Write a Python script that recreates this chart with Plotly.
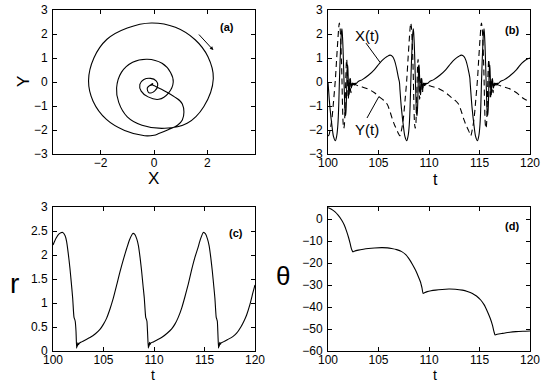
import plotly.graph_objects as go

# ---------------- data ----------------
# X(t), Y(t): three cycles
t_cycle1 = [100.00, 100.06, 100.20, 100.38, 100.55, 100.72, 100.86, 100.98, 101.06, 101.12,
            101.19, 101.26, 101.32, 101.38, 101.44, 101.50, 101.56, 101.62, 101.66, 101.70,
            101.74, 101.78, 101.82, 101.85, 101.88, 101.91, 101.94, 101.97, 102.00, 102.03,
            102.06, 102.09, 102.12, 102.15, 102.18, 102.21, 102.24, 102.28, 102.32, 102.36,
            102.40, 102.44, 102.48, 102.53, 102.58, 102.64, 102.70, 102.78, 103.00, 103.40,
            104.00, 104.60, 105.10, 105.50, 105.85, 106.15, 106.40, 106.60, 106.80, 106.97]
x_cycle1 = [0.00, -0.35, -1.10, -1.78, -2.28, -2.45, -2.25, -1.76, -1.00, -0.10,
            0.80, 1.54, 2.02, 2.22, 1.86, 1.24, 0.40, -0.45, -1.00, -1.32,
            -1.40, -1.22, -0.80, -0.25, 0.30, 0.62, 0.72, 0.55, 0.18, -0.22,
            -0.48, -0.53, -0.38, -0.13, 0.08, 0.14, 0.02, -0.19, -0.25, -0.10,
            -0.04, -0.12, -0.05, -0.11, -0.05, -0.09, -0.05, -0.06, 0.02, 0.10,
            0.28, 0.52, 0.78, 0.95, 1.06, 1.12, 1.06, 0.88, 0.55, 0.18]
y_cycle1 = [-2.22, -2.24, -2.02, -1.56, -0.80, 0.05, 1.00, 1.78, 2.25, 2.46,
            2.28, 1.76, 1.05, 0.15, -1.03, -1.72, -1.93, -1.80, -1.45, -0.85,
            -0.25, 0.40, 0.82, 0.95, 0.78, 0.40, 0.00, -0.45, -0.72, -0.62,
            -0.38, -0.10, 0.10, 0.15, 0.05, -0.13, -0.38, -0.45, -0.25, -0.10,
            -0.06, -0.15, -0.08, -0.14, -0.09, -0.13, -0.10, -0.12, -0.16, -0.21,
            -0.30, -0.45, -0.63, -0.76, -0.92, -1.25, -1.58, -1.80, -1.98, -2.15]

t_cycle2 = [107.07, 107.13, 107.27, 107.45, 107.62, 107.79, 107.93, 108.05, 108.13, 108.19,
            108.26, 108.33, 108.39, 108.45, 108.51, 108.57, 108.63, 108.69, 108.73, 108.77,
            108.81, 108.85, 108.89, 108.92, 108.95, 108.98, 109.01, 109.04, 109.07, 109.10,
            109.13, 109.16, 109.19, 109.22, 109.25, 109.28, 109.31, 109.35, 109.39, 109.43,
            109.47, 109.51, 109.55, 109.60, 109.65, 109.71, 109.77, 109.85, 110.07, 110.47,
            111.07, 111.67, 112.17, 112.57, 112.92, 113.22, 113.47, 113.67, 113.87, 114.04]
x_cycle2 = [0.00, -0.35, -1.10, -1.78, -2.28, -2.45, -2.25, -1.76, -1.00, -0.10,
            0.80, 1.54, 2.02, 2.22, 1.86, 1.24, 0.40, -0.45, -1.00, -1.32,
            -1.40, -1.22, -0.80, -0.25, 0.30, 0.62, 0.72, 0.55, 0.18, -0.22,
            -0.48, -0.53, -0.38, -0.13, 0.08, 0.14, 0.02, -0.19, -0.25, -0.10,
            -0.04, -0.12, -0.05, -0.11, -0.05, -0.09, -0.05, -0.06, 0.02, 0.10,
            0.28, 0.52, 0.78, 0.95, 1.06, 1.12, 1.06, 0.88, 0.55, 0.18]
y_cycle2 = [-2.22, -2.24, -2.02, -1.56, -0.80, 0.05, 1.00, 1.78, 2.25, 2.46,
            2.28, 1.76, 1.05, 0.15, -1.03, -1.72, -1.93, -1.80, -1.45, -0.85,
            -0.25, 0.40, 0.82, 0.95, 0.78, 0.40, 0.00, -0.45, -0.72, -0.62,
            -0.38, -0.10, 0.10, 0.15, 0.05, -0.13, -0.38, -0.45, -0.25, -0.10,
            -0.06, -0.15, -0.08, -0.14, -0.09, -0.13, -0.10, -0.12, -0.16, -0.21,
            -0.30, -0.45, -0.63, -0.76, -0.92, -1.25, -1.58, -1.80, -1.98, -2.15]

t_cycle3 = [114.07, 114.13, 114.27, 114.45, 114.62, 114.79, 114.93, 115.05, 115.13, 115.19,
            115.26, 115.33, 115.39, 115.45, 115.51, 115.57, 115.63, 115.69, 115.73, 115.77,
            115.81, 115.85, 115.89, 115.92, 115.95, 115.98, 116.01, 116.04, 116.07, 116.10,
            116.13, 116.16, 116.19, 116.22, 116.25, 116.28, 116.31, 116.35, 116.39, 116.43,
            116.47, 116.51, 116.55, 116.60, 116.65, 116.71, 116.77, 116.85, 117.07, 117.47,
            118.07, 118.67, 119.17, 119.57, 120.00]
x_cycle3 = [0.00, -0.35, -1.10, -1.78, -2.28, -2.45, -2.25, -1.76, -1.00, -0.10,
            0.80, 1.54, 2.02, 2.22, 1.86, 1.24, 0.40, -0.45, -1.00, -1.32,
            -1.40, -1.22, -0.80, -0.25, 0.30, 0.62, 0.72, 0.55, 0.18, -0.22,
            -0.48, -0.53, -0.38, -0.13, 0.08, 0.14, 0.02, -0.19, -0.25, -0.10,
            -0.04, -0.12, -0.05, -0.11, -0.05, -0.09, -0.05, -0.06, 0.02, 0.10,
            0.28, 0.52, 0.78, 0.92, 1.00]
y_cycle3 = [-2.22, -2.24, -2.02, -1.56, -0.80, 0.05, 1.00, 1.78, 2.25, 2.46,
            2.28, 1.76, 1.05, 0.15, -1.03, -1.72, -1.93, -1.80, -1.45, -0.85,
            -0.25, 0.40, 0.82, 0.95, 0.78, 0.40, 0.00, -0.45, -0.72, -0.62,
            -0.38, -0.10, 0.10, 0.15, 0.05, -0.13, -0.38, -0.45, -0.25, -0.10,
            -0.06, -0.15, -0.08, -0.14, -0.09, -0.13, -0.10, -0.12, -0.16, -0.21,
            -0.30, -0.45, -0.63, -0.74, -0.82]

# r(t)
t_r = [100.0, 100.3, 100.6, 100.96, 101.2, 101.35, 101.5, 101.68, 101.8, 101.95,
       102.08, 102.15, 102.2, 102.28, 102.34, 102.38, 102.42, 102.46, 102.52, 102.6,
       102.84, 103.2, 103.66, 104.2, 104.65, 105.0, 105.3, 105.65, 105.97, 106.3,
       106.63, 107.0, 107.3, 107.6, 107.9, 108.1, 108.3, 108.45, 108.62, 108.78,
       108.92, 109.04, 109.18, 109.25, 109.3, 109.37, 109.44, 109.48, 109.52, 109.56,
       109.62, 109.7, 109.93, 110.3, 110.75, 111.3, 111.75, 112.1, 112.4, 112.75,
       113.05, 113.4, 113.7, 114.05, 114.35, 114.6, 114.88, 115.1, 115.3, 115.45,
       115.62, 115.78, 115.92, 116.03, 116.16, 116.22, 116.27, 116.33, 116.39, 116.43,
       116.47, 116.51, 116.57, 116.65, 116.86, 117.3, 117.8, 118.18, 118.6, 118.9,
       119.17, 119.5, 119.8, 120.0]
r_vals = [2.21, 2.35, 2.44, 2.47, 2.40, 2.28, 2.05, 1.72, 1.45, 1.10,
          0.70, 0.66, 0.62, 0.40, 0.06, 0.14, 0.10, 0.17, 0.13, 0.16,
          0.19, 0.23, 0.28, 0.36, 0.45, 0.56, 0.68, 0.88, 1.10, 1.37,
          1.65, 1.93, 2.14, 2.33, 2.45, 2.43, 2.33, 2.20, 1.95, 1.65,
          1.35, 1.10, 0.70, 0.66, 0.62, 0.35, 0.06, 0.15, 0.10, 0.18,
          0.14, 0.17, 0.19, 0.23, 0.28, 0.37, 0.46, 0.57, 0.70, 0.90,
          1.12, 1.40, 1.67, 1.95, 2.15, 2.33, 2.47, 2.44, 2.33, 2.20,
          1.95, 1.65, 1.35, 1.10, 0.70, 0.66, 0.62, 0.35, 0.06, 0.15,
          0.10, 0.18, 0.14, 0.17, 0.19, 0.24, 0.30, 0.37, 0.50, 0.62,
          0.75, 0.97, 1.22, 1.375]

# theta(t)
t_theta = [100.0, 100.3, 100.7, 101.0, 101.36, 101.6, 101.86, 102.05, 102.19, 102.3,
           102.38, 102.46, 102.6, 103.0, 103.5, 104.0, 104.6, 105.3, 105.9, 106.3,
           106.8, 107.3, 107.7, 107.99, 108.35, 108.66, 108.95, 109.15, 109.3, 109.42,
           109.55, 109.82, 110.2, 110.65, 111.3, 111.97, 112.6, 113.3, 113.8, 114.3,
           114.7, 115.12, 115.45, 115.79, 116.05, 116.28, 116.42, 116.55, 116.75, 117.3,
           118.0, 118.6, 119.3, 120.0]
theta_vals = [5.2, 4.6, 3.3, 1.8, -0.5, -2.6, -5.8, -8.6, -11.1, -13.2,
              -14.2, -14.9, -14.6, -14.1, -13.7, -13.4, -13.15, -13.0, -13.1, -13.4,
              -13.9, -14.8, -16.2, -17.9, -20.5, -23.2, -26.2, -28.5, -31.2, -33.8,
              -33.5, -33.0, -32.6, -32.3, -32.0, -31.8, -31.9, -32.3, -32.9, -33.8,
              -35.0, -36.8, -38.9, -42.1, -45.0, -48.2, -51.0, -52.7, -52.4, -52.0,
              -51.5, -51.2, -51.0, -50.9]

t_ticks = [100, 105, 110, 115, 120]

# ---------------- figure ----------------
t_xy = t_cycle1 + t_cycle2 + t_cycle3
x_xy = x_cycle1 + x_cycle2 + x_cycle3
y_xy = y_cycle1 + y_cycle2 + y_cycle3

FONT = "Liberation Sans, Arial, sans-serif"
W, H = 545, 382


def px(x):
    return x / W


def py(y):
    return 1 - y / H


line_solid = dict(color="black", width=1.1, shape="spline", smoothing=1.0)

fig = go.Figure()
fig.add_trace(go.Scatter(x=x_xy, y=y_xy, mode="lines", line=line_solid,
                         xaxis="x", yaxis="y", showlegend=False))
fig.add_trace(go.Scatter(x=t_xy, y=x_xy, mode="lines", line=line_solid,
                         xaxis="x2", yaxis="y2", showlegend=False))
fig.add_trace(go.Scatter(x=t_xy, y=y_xy, mode="lines",
                         line=dict(color="black", width=1.1, dash="6px,4px", shape="spline", smoothing=1.0),
                         xaxis="x2", yaxis="y2", showlegend=False))
fig.add_trace(go.Scatter(x=t_r, y=r_vals, mode="lines",
                         line=dict(color="black", width=1.1, shape="spline", smoothing=0.6),
                         xaxis="x3", yaxis="y3", showlegend=False))
fig.add_trace(go.Scatter(x=t_theta, y=theta_vals, mode="lines",
                         line=dict(color="black", width=1.1, shape="spline", smoothing=0.6),
                         xaxis="x4", yaxis="y4", showlegend=False))

common = dict(showline=True, linecolor="black", linewidth=1, mirror="ticks",
              ticks="inside", ticklen=4, tickcolor="black", tickwidth=1,
              showgrid=False, zeroline=False, automargin=False,
              tickfont=dict(size=12, color="black", family=FONT))
xcommon = dict(ticklabelstandoff=-2, **common)
ycommon = dict(ticklabelstandoff=2, **common)

top_dom = [py(154), py(10)]
bot_dom = [py(351), py(207)]
left_dom = [px(53), px(255)]
right_dom = [px(328), px(530)]

fig.update_layout(
    width=W, height=H, autosize=False,
    margin=dict(l=0, r=0, t=0, b=0, autoexpand=False),
    paper_bgcolor="white", plot_bgcolor="white",
    font=dict(family=FONT, color="black"),
    xaxis=dict(domain=left_dom, anchor="y", range=[-3.78, 3.78], tickvals=[-2, 0, 2], **xcommon),
    yaxis=dict(domain=top_dom, anchor="x", range=[-3, 3], dtick=1, **ycommon),
    xaxis2=dict(domain=right_dom, anchor="y2", range=[100, 120], tickvals=t_ticks, **xcommon),
    yaxis2=dict(domain=top_dom, anchor="x2", range=[-3, 3], dtick=1, **ycommon),
    xaxis3=dict(domain=left_dom, anchor="y3", range=[100, 120], tickvals=t_ticks, **xcommon),
    yaxis3=dict(domain=bot_dom, anchor="x3", range=[0, 3], dtick=0.5, **ycommon),
    xaxis4=dict(domain=right_dom, anchor="y4", range=[100, 120], tickvals=t_ticks, **xcommon),
    yaxis4=dict(domain=bot_dom, anchor="x4", range=[-60, 5.5],
                tickvals=[-60, -50, -40, -30, -20, -10, 0], **ycommon),
)

ann = []


def label(text, x, y, size, bold=False, angle=0):
    ann.append(dict(text=("<b>%s</b>" % text) if bold else text,
                    x=px(x), y=py(y), xref="paper", yref="paper",
                    xanchor="center", yanchor="middle", showarrow=False,
                    textangle=angle, font=dict(size=size, color="black", family=FONT)))


label("(a)", 227, 27, 11, bold=True)
label("(b)", 512, 30, 11, bold=True)
label("(c)", 236, 233, 11, bold=True)
label("(d)", 512, 226, 11, bold=True)
label("X", 153, 178, 17)
label("Y", 24, 82, 17, angle=-90)
label("t", 435, 179, 16)
label("t", 153, 375, 14)
label("t", 435, 375, 14)
label("r", 14, 283, 28)
label("θ", 283, 276, 26)
label("X(t)", 367, 35, 15)
label("Y(t)", 367, 129, 15)

# arrow showing the direction of motion in (a)
ann.append(dict(x=2.22, y=1.33, ax=1.63, ay=2.04, xref="x", yref="y", axref="x", ayref="y",
                showarrow=True, arrowhead=2, arrowsize=0.7, arrowwidth=1, arrowcolor="black", text=""))

fig.update_layout(annotations=ann)

# pointer lines for the X(t), Y(t) labels
fig.add_shape(type="line", xref="x2", yref="y2", x0=103.76, y0=1.62, x1=105.15, y1=0.82,
              line=dict(color="black", width=1))
fig.add_shape(type="line", xref="x2", yref="y2", x0=103.86, y0=-1.5, x1=105.05, y1=-0.6,
              line=dict(color="black", width=1))

fig.write_html("out.html", config={"displayModeBar": False},
               post_script="document.body.style.margin='0';document.body.style.padding='0';")
